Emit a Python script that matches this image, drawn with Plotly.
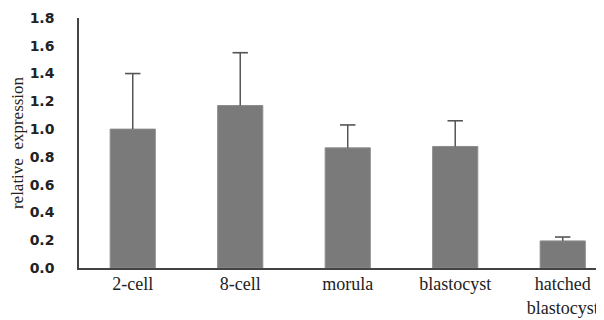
import plotly.graph_objects as go

categories = ["2-cell", "8-cell", "morula", "blastocyst", "hatched<br>blastocyst"]
values = [1.00, 1.17, 0.865, 0.875, 0.195]
errors = [0.40, 0.38, 0.165, 0.185, 0.028]
y_ticks = [0.0, 0.2, 0.4, 0.6, 0.8, 1.0, 1.2, 1.4, 1.6, 1.8]

idx = list(range(len(categories)))
tops = [v + e for v, e in zip(values, errors)]

fig = go.Figure()
fig.add_trace(go.Bar(
    x=idx, y=values, width=0.42,
    marker=dict(color="#7a7a7a", line=dict(color="#8c8c8c", width=1)),
))
fig.add_trace(go.Scatter(
    x=idx, y=tops, mode="markers",
    marker=dict(symbol="line-ew", size=11, color="#555555",
                line=dict(color="#555555", width=1.6)),
    error_y=dict(type="data", symmetric=False, array=[0]*len(errors),
                 arrayminus=errors, color="#555555", thickness=1.5, width=0),
    hoverinfo="skip",
))

# page body has an 8px default margin; compensate
fig.update_layout(
    width=596, height=312,
    margin=dict(l=71, r=0, t=10, b=52),
    paper_bgcolor="white", plot_bgcolor="white",
    showlegend=False,
)
fig.update_xaxes(
    tickmode="array", tickvals=idx, ticktext=categories,
    range=[-0.5, 4.384], automargin=False,
    showline=True, linecolor="#444444", linewidth=1.5,
    showgrid=False, zeroline=False, ticks="",
    ticklabelstandoff=-1,
    tickfont=dict(family="Liberation Serif", size=18, color="#222222"),
)
fig.update_yaxes(
    range=[0, 1.8], tickmode="array", tickvals=y_ticks,
    ticktext=[f"{v:.1f}" for v in y_ticks], automargin=False,
    showline=True, linecolor="#444444", linewidth=1.5,
    showgrid=False, zeroline=False, ticks="",
    ticklabelstandoff=20,
    tickfont=dict(family="DejaVu Sans", size=14, color="#222222", weight="bold"),
    title=dict(text="relative  expression", standoff=2,
               font=dict(family="Liberation Serif", size=17, color="#222222")),
)

fig.write_html("out.html")
